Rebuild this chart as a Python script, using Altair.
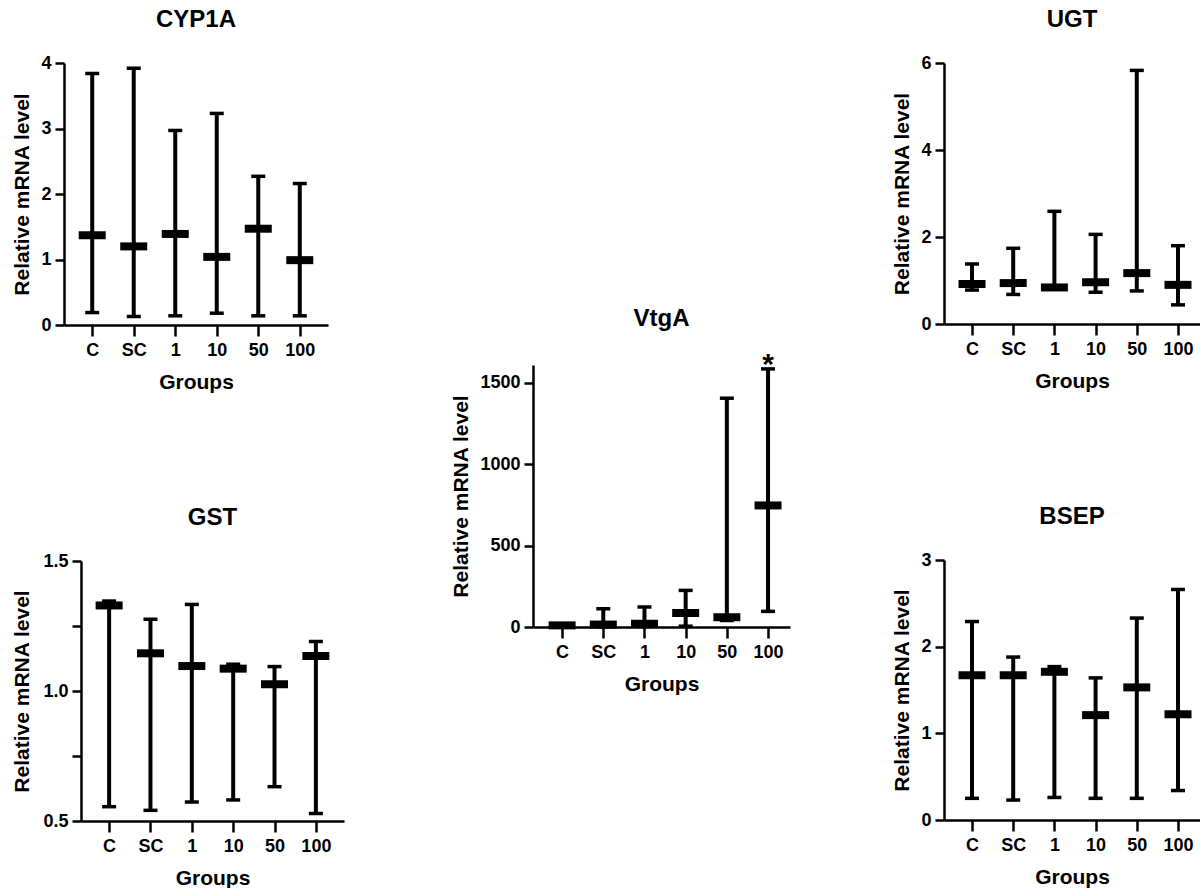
import altair as alt
import pandas as pd

GROUPS = ["C", "SC", "1", "10", "50", "100"]

# CYP1A
CYP1A_MED = [1.37, 1.20, 1.39, 1.04, 1.47, 0.99]
CYP1A_MIN = [0.19, 0.13, 0.14, 0.18, 0.14, 0.14]
CYP1A_MAX = [3.84, 3.92, 2.97, 3.23, 2.27, 2.16]

# UGT
UGT_MED = [0.92, 0.94, 0.84, 0.96, 1.17, 0.90]
UGT_MIN = [0.78, 0.68, 0.80, 0.73, 0.76, 0.44]
UGT_MAX = [1.38, 1.74, 2.59, 2.06, 5.83, 1.80]

# VtgA
VTGA_MED = [10, 15, 20, 86, 60, 747]
VTGA_MIN = [0, 2, 3, 5, 40, 96]
VTGA_MAX = [15, 112, 123, 225, 1406, 1586]
VTGA_SIG = ["", "", "", "", "", "*"]

# GST
GST_MED = [1.329, 1.145, 1.096, 1.086, 1.026, 1.135]
GST_MIN = [0.555, 0.541, 0.573, 0.581, 0.632, 0.529]
GST_MAX = [1.346, 1.276, 1.333, 1.103, 1.094, 1.190]

# BSEP
BSEP_MED = [1.67, 1.67, 1.71, 1.21, 1.53, 1.22]
BSEP_MIN = [0.25, 0.23, 0.26, 0.25, 0.25, 0.34]
BSEP_MAX = [2.29, 1.88, 1.77, 1.64, 2.33, 2.66]

FONT = "Liberation Sans"


def panel(name, med, lo, hi, domain, values, width, height=262, pad=0.68,
          align=0.5, label_expr=None, sig=None, title_pad=8, shift=0,
          title_offset=22):
    df = pd.DataFrame({"group": GROUPS, "median": med, "lo": lo, "hi": hi,
                       "sig": sig if sig else [""] * len(GROUPS)})
    yaxis_kwargs = dict(values=values, title="Relative mRNA level",
                        titlePadding=title_pad)
    if label_expr:
        yaxis_kwargs["labelExpr"] = label_expr
    else:
        yaxis_kwargs["format"] = "d"
    if shift:
        yaxis_kwargs["offset"] = -shift
    xscale_kwargs = dict(type="point", padding=pad, align=align)
    if shift:
        xscale_kwargs["range"] = [shift, width]
    x = alt.X("group:N", sort=GROUPS,
              scale=alt.Scale(**xscale_kwargs),
              axis=alt.Axis(title="Groups", labelAngle=0, tickSize=11,
                            labelPadding=5, titlePadding=12))
    yscale = alt.Scale(domain=domain, nice=False, zero=False)
    base = alt.Chart(df)
    rule = base.mark_rule(color="black", strokeWidth=4).encode(
        x=x,
        y=alt.Y("lo:Q", scale=yscale, axis=alt.Axis(**yaxis_kwargs)),
        y2="hi:Q")
    cap_lo = base.mark_tick(color="black", size=14, thickness=3.5, opacity=1).encode(
        x=x, y=alt.Y("lo:Q", scale=yscale))
    cap_hi = base.mark_tick(color="black", size=14, thickness=3.5, opacity=1).encode(
        x=x, y=alt.Y("hi:Q", scale=yscale))
    med_t = base.mark_tick(color="black", size=27, thickness=8, opacity=1).encode(
        x=x, y=alt.Y("median:Q", scale=yscale))
    layers = [rule, cap_lo, cap_hi, med_t]
    if sig:
        txt = base.mark_text(color="black", fontSize=30, fontWeight="bold",
                             font=FONT, baseline="alphabetic", dy=5).encode(
            x=x, y=alt.Y("hi:Q", scale=yscale), text="sig:N")
        layers.append(txt)
    return alt.layer(*layers).properties(
        width=width, height=height,
        title=alt.TitleParams(name, fontSize=24, font=FONT, fontWeight="bold",
                              frame="group", anchor="middle", offset=title_offset,
                              dx=shift / 2, color="black"))


cyp = panel("CYP1A", CYP1A_MED, CYP1A_MIN, CYP1A_MAX, [0, 4], [0, 1, 2, 3, 4], 264)
gst = panel("GST", GST_MED, GST_MIN, GST_MAX, [0.5, 1.5],
            [0.5 + 0.125 * i for i in range(9)], 280, height=260, shift=17,
            title_pad=10,
            label_expr="(datum.value*2) % 1 == 0 ? format(datum.value, '.1f') : ''")
vtg = panel("VtgA", VTGA_MED, VTGA_MIN, VTGA_MAX, [0, 1610], [0, 500, 1000, 1500],
            257, pad=0.62, align=0.57, sig=VTGA_SIG, title_offset=19)
ugt = panel("UGT", UGT_MED, UGT_MIN, UGT_MAX, [0, 6], [0, 2, 4, 6], 256,
            height=261, pad=0.607, align=0.56)
bsep = panel("BSEP", BSEP_MED, BSEP_MIN, BSEP_MAX, [0, 3], [0, 1, 2, 3], 256,
             height=260, pad=0.607, align=0.56)

spacer = alt.Chart(pd.DataFrame({"a": [0]})).mark_point(opacity=0, size=0).encode(
    x=alt.value(0), y=alt.value(0)).properties(width=1, height=243)

left = alt.vconcat(cyp, gst, spacing=114)
middle = alt.vconcat(spacer, vtg, spacing=0)
right = alt.vconcat(ugt, bsep, spacing=114)

chart = alt.hconcat(alt.hconcat(left, middle, spacing=106), right, spacing=101).properties(
    padding={"top": 8, "left": 11, "right": 0, "bottom": 0}
).configure_view(stroke=None).configure_axis(
    grid=False, domainColor="black", domainWidth=2.5, tickColor="black",
    tickWidth=2.5, tickSize=9, labelFont=FONT, labelFontSize=18,
    labelFontWeight="bold", labelColor="black", titleFont=FONT,
    titleFontSize=21, titleFontWeight="bold", titleColor="black", labelPadding=4
).configure_concat(spacing=0)

chart.save("out.html", embed_options={"renderer": "svg", "actions": False})
